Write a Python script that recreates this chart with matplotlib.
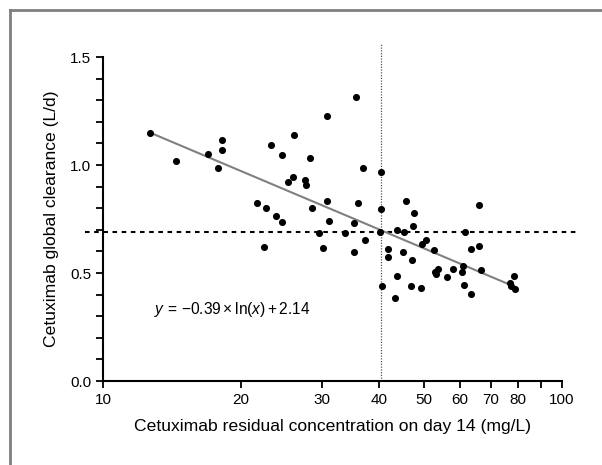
"""Cetuximab global clearance vs residual concentration on day 14 (log x)."""
import matplotlib
matplotlib.use("Agg")
import matplotlib.pyplot as plt
import numpy as np
from matplotlib.lines import Line2D
from matplotlib.ticker import FixedLocator, FixedFormatter, MultipleLocator, NullLocator

plt.rcParams["font.family"] = ["Liberation Sans", "DejaVu Sans"]
plt.rcParams["mathtext.fontset"] = "custom"
plt.rcParams["mathtext.rm"] = "Liberation Sans"
plt.rcParams["mathtext.it"] = "Liberation Sans:italic"

# residual concentration day 14 (mg/L) and global clearance (L/d)
CONC = [12.66, 14.4, 16.9, 17.8, 18.2, 18.2, 21.7, 22.6, 23.8, 24.6,
        22.4, 23.2, 24.5, 26.1, 25.3, 26.0, 28.3, 27.6, 27.7, 28.6,
        29.5, 30.2, 30.7, 30.8, 31.0, 35.5, 36.9, 40.4, 40.4, 40.2,
        35.9, 35.2, 33.7, 37.2, 35.3, 45.7, 47.7, 47.4, 43.6, 45.3,
        61.5, 66.1, 50.6, 49.5, 52.7, 41.8, 41.8, 45.0, 47.1, 63.5,
        65.9, 66.7, 60.9, 60.4, 57.9, 53.7, 53.2, 53.0, 56.2, 43.8,
        78.6, 40.5, 43.3, 46.9, 49.4, 61.1, 63.2, 77.0, 77.3, 78.9]
CLEAR = [1.150, 1.020, 1.050, 0.986, 1.117, 1.071, 0.825, 0.800, 0.765, 0.736,
         0.622, 1.093, 1.046, 1.137, 0.920, 0.943, 1.034, 0.930, 0.906, 0.800,
         0.687, 0.614, 1.227, 0.832, 0.739, 1.316, 0.988, 0.969, 0.796, 0.691,
         0.826, 0.731, 0.684, 0.654, 0.599, 0.833, 0.778, 0.718, 0.700, 0.691,
         0.691, 0.815, 0.653, 0.633, 0.606, 0.611, 0.573, 0.596, 0.559, 0.611,
         0.626, 0.515, 0.534, 0.505, 0.520, 0.517, 0.494, 0.503, 0.481, 0.486,
         0.485, 0.441, 0.386, 0.441, 0.429, 0.444, 0.404, 0.455, 0.441, 0.428]

# fitted model y = a*ln(x) + b
SLOPE, INTERCEPT = -0.39, 2.14
FIT_RANGE = [12.66, 79.0]

CUT_CONC = 40.4   # vertical threshold
CUT_CLEAR = 0.69  # horizontal threshold

XTICKS = [10, 20, 30, 40, 50, 60, 70, 80, 90, 100]
XTICKLABELS = ["10", "20", "30", "40", "50", "60", "70", "80", "", "100"]

fig = plt.figure(figsize=(6.02, 4.65), dpi=100)
ax = fig.add_axes([0.1711, 0.1806, 0.7625, 0.6968])

# frame around figure (left + top, gray)
fig.add_artist(Line2D([0.016, 0.016], [0.0, 0.978], transform=fig.transFigure,
                      color="#7f7f7f", lw=2.0))
fig.add_artist(Line2D([0.016, 1.0], [0.978, 0.978], transform=fig.transFigure,
                      color="#7f7f7f", lw=2.0))

xs = np.linspace(FIT_RANGE[0], FIT_RANGE[1], 200)
ax.plot(xs, SLOPE * np.log(xs) + INTERCEPT, color="#808080", lw=1.5, zorder=2)

ax.scatter(CONC, CLEAR, s=26, color="black", zorder=3, linewidths=0)

ax.plot([9.14, 108.4], [CUT_CLEAR, CUT_CLEAR], color="black", lw=1.5,
        ls=(0, (2.2, 2.2)), clip_on=False, zorder=1)
ax.plot([CUT_CONC, CUT_CONC], [0, 1.56], color="#555555", lw=0.9,
        ls=(0, (1, 1.2)), clip_on=False, zorder=1)

ax.text(12.9, 0.333, r"$y\,=\,{-}0.39\times\ln(x)+2.14$", fontsize=11.2, va="center")

ax.set_xscale("log")
ax.set_xlim(10, 100)
ax.set_ylim(0, 1.5)
ax.xaxis.set_major_locator(FixedLocator(XTICKS))
ax.xaxis.set_major_formatter(FixedFormatter(XTICKLABELS))
ax.xaxis.set_minor_locator(NullLocator())
ax.yaxis.set_major_locator(MultipleLocator(0.5))
ax.yaxis.set_minor_locator(MultipleLocator(0.1))
ax.yaxis.set_major_formatter(matplotlib.ticker.FormatStrFormatter("%.1f"))

for s in ("top", "right"):
    ax.spines[s].set_visible(False)
for s in ("left", "bottom"):
    ax.spines[s].set_linewidth(1.5)
ax.tick_params(which="both", direction="out", width=1.3, labelsize=11)
ax.tick_params(which="major", length=5)
ax.tick_params(which="minor", length=5)

ax.set_xlabel("Cetuximab residual concentration on day 14 (mg/L)", fontsize=12.6, labelpad=9)
ax.set_ylabel("Cetuximab global clearance (L/d)", fontsize=12.6, labelpad=8)

fig.savefig("out.png", dpi=100)
